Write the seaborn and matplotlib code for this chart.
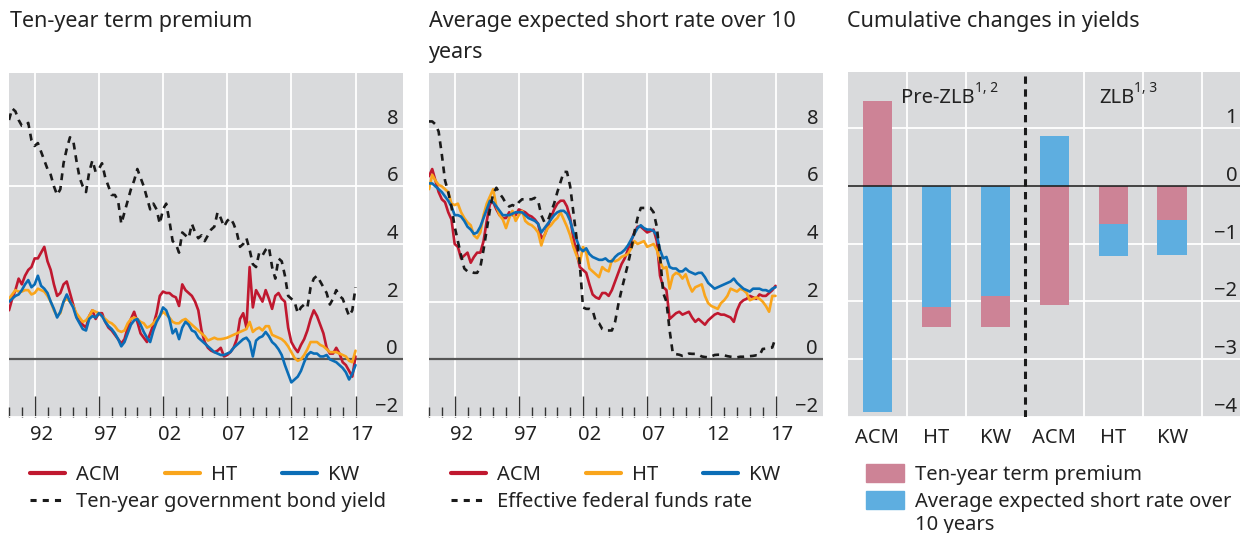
import numpy as np
import matplotlib
matplotlib.use("Agg")
import matplotlib.pyplot as plt
import matplotlib.transforms as mtransforms
from matplotlib.lines import Line2D
from matplotlib.patches import Patch
import seaborn as sns

# quarterly readings, 1990Q1 .. 2017Q1
dates = 1990 + np.arange(109) * 0.25

# left panel: ten-year term premium estimates and the 10y yield
acm_tp = [1.7, 2.1, 2.4, 2.8, 2.6, 2.9, 3.1, 3.2, 3.5, 3.5, 3.7, 3.9,
          3.4, 3.1, 2.6, 2.2, 2.3, 2.6, 2.7, 2.3, 1.9, 1.5, 1.3, 1.2,
          1.1, 1.5, 1.7, 1.4, 1.6, 1.6, 1.3, 1.1, 1.0, 0.85, 0.7, 0.55,
          0.7, 1.1, 1.4, 1.65, 1.3, 0.9, 0.75, 0.6, 0.9, 1.2, 1.6, 2.2,
          2.35, 2.3, 2.3, 2.2, 2.15, 1.85, 2.6, 2.4, 2.3, 2.2, 2.0, 1.7,
          1.0, 0.6, 0.4, 0.3, 0.25, 0.3, 0.4, 0.1, 0.15, 0.25, 0.4, 0.7,
          1.4, 1.6, 1.1, 3.2, 1.8, 2.4, 2.2, 2.0, 2.4, 2.1, 1.75, 2.2,
          2.3, 2.1, 2.0, 1.1, 0.6, 0.4, 0.25, 0.5, 0.7, 1.0, 1.4, 1.7,
          1.5, 1.2, 0.9, 0.4, 0.2, 0.2, 0.4, 0.2, -0.1, -0.2, -0.4, -0.6,
          0.1]
ht_tp = [2.1, 2.25, 2.4, 2.35, 2.35, 2.4, 2.4, 2.25, 2.3, 2.45, 2.4, 2.35,
         2.2, 2.0, 1.7, 1.5, 1.6, 2.0, 2.1, 2.0, 1.85, 1.6, 1.45, 1.3,
         1.35, 1.5, 1.7, 1.65, 1.6, 1.5, 1.4, 1.3, 1.25, 1.15, 1.0, 0.95,
         1.0, 1.25, 1.4, 1.45, 1.4, 1.3, 1.25, 1.1, 1.15, 1.25, 1.4, 1.5,
         1.65, 1.55, 1.45, 1.3, 1.25, 1.25, 1.35, 1.4, 1.3, 1.2, 1.1, 1.0,
         0.9, 0.8, 0.65, 0.7, 0.75, 0.7, 0.7, 0.72, 0.75, 0.8, 0.85, 0.9,
         0.95, 1.0, 1.05, 1.3, 0.95, 1.05, 1.1, 1.0, 1.15, 1.15, 0.85, 0.8,
         0.75, 0.7, 0.6, 0.45, 0.25, 0.05, -0.05, 0.0, 0.15, 0.35, 0.6, 0.6,
         0.6, 0.5, 0.45, 0.35, 0.25, 0.25, 0.25, 0.2, 0.15, 0.1, -0.05, -0.1,
         0.3]
kw_tp = [2.0, 2.1, 2.2, 2.25, 2.4, 2.6, 2.75, 2.5, 2.6, 2.9, 2.55, 2.45,
         2.3, 2.0, 1.75, 1.45, 1.65, 2.0, 2.25, 2.0, 1.8, 1.45, 1.25, 1.05,
         1.0, 1.4, 1.5, 1.45, 1.6, 1.5, 1.3, 1.15, 1.05, 0.9, 0.7, 0.45,
         0.6, 0.9, 1.2, 1.35, 1.4, 1.2, 0.95, 0.75, 0.6, 1.0, 1.3, 1.5,
         1.8, 1.7, 1.4, 0.9, 1.05, 0.7, 1.1, 1.3, 1.2, 1.0, 0.95, 0.75,
         0.65, 0.55, 0.45, 0.35, 0.25, 0.2, 0.15, 0.15, 0.2, 0.25, 0.4, 0.5,
         0.6, 0.7, 0.75, 0.6, 0.1, 0.65, 0.75, 0.8, 0.95, 0.8, 0.6, 0.5,
         0.35, 0.15, -0.2, -0.5, -0.8, -0.7, -0.6, -0.4, -0.1, 0.15, 0.25, 0.2,
         0.2, 0.1, 0.1, 0.15, 0.0, -0.05, -0.1, -0.2, -0.3, -0.45, -0.7, -0.5,
         -0.2]
bond_yield = [8.3, 8.7, 8.6, 8.3, 8.1, 8.1, 8.2, 7.6, 7.4, 7.5, 7.2, 6.9,
              6.6, 6.4, 6.0, 5.7, 5.9, 6.8, 7.3, 7.7, 7.6, 6.9, 6.3, 6.0,
              5.8, 6.5, 6.9, 6.5, 6.6, 6.8, 6.3, 6.0, 5.7, 5.7, 5.5, 4.7,
              5.1, 5.5, 5.9, 6.2, 6.6, 6.3, 6.0, 5.6, 5.2, 5.4, 5.2, 4.7,
              5.2, 5.4, 4.8, 4.1, 4.0, 3.7, 4.4, 4.3, 4.2, 4.7, 4.4, 4.2,
              4.3, 4.1, 4.3, 4.5, 4.6, 5.1, 4.9, 4.6, 4.8, 4.9, 4.7, 4.4,
              3.9, 4.0, 4.2, 3.8, 3.3, 3.2, 3.7, 3.6, 3.8, 3.9, 3.2, 2.8,
              3.5, 3.4, 2.9, 2.2, 2.1, 2.0, 1.6, 1.8, 1.9, 1.8, 2.5, 2.8,
              2.9, 2.7, 2.5, 2.3, 1.9, 2.1, 2.4, 2.2, 2.1, 1.8, 1.5, 1.7,
              2.5]

# middle panel: average expected short rate over 10 years and fed funds
acm_sr = [6.35, 6.6, 6.2, 5.8, 5.55, 5.45, 5.1, 4.85, 4.0, 3.9, 3.5, 3.6,
          3.7, 3.35, 3.55, 3.7, 3.7, 4.1, 4.8, 5.4, 5.45, 5.2, 5.0, 4.9,
          4.9, 5.1, 5.0, 5.0, 5.2, 5.15, 5.1, 5.0, 4.95, 4.85, 4.7, 4.2,
          4.3, 4.6, 4.9, 5.2, 5.4, 5.5, 5.5, 5.3, 4.9, 4.2, 3.7, 3.2,
          3.1, 3.0, 2.6, 2.25, 2.15, 2.1, 2.3, 2.3, 2.2, 2.4, 2.7, 3.0,
          3.3, 3.5, 3.8, 4.1, 4.4, 4.6, 4.6, 4.5, 4.4, 4.45, 4.5, 4.1,
          2.9, 2.5, 2.4, 1.4, 1.5, 1.6, 1.65, 1.55, 1.6, 1.65, 1.45, 1.3,
          1.4, 1.3, 1.2, 1.35, 1.45, 1.55, 1.6, 1.55, 1.55, 1.5, 1.45, 1.3,
          1.7, 1.95, 2.05, 2.1, 2.2, 2.15, 2.1, 2.25, 2.2, 2.2, 2.3, 2.4,
          2.55]
ht_sr = [5.9, 6.4, 6.2, 6.05, 6.0, 5.9, 5.8, 5.4, 5.35, 5.4, 5.1, 4.9,
         4.75, 4.65, 4.3, 4.2, 4.4, 5.0, 5.4, 5.65, 5.9, 5.3, 5.0, 4.85,
         4.55, 4.9, 5.15, 4.8, 5.0, 5.15, 4.8, 4.7, 4.65, 4.55, 4.4, 3.95,
         4.3, 4.55, 4.65, 4.8, 4.9, 5.1, 4.85, 4.6, 4.3, 3.9, 3.6, 3.35,
         3.9, 3.7, 3.15, 3.05, 2.95, 2.85, 3.2, 3.1, 3.05, 3.45, 3.4, 3.45,
         3.55, 3.6, 3.65, 3.85, 4.1, 4.0, 4.05, 4.1, 3.9, 3.95, 4.0, 3.8,
         3.4, 3.15, 3.2, 2.45, 2.9, 3.0, 2.95, 2.8, 2.95, 2.6, 2.35, 2.5,
         2.55, 2.6, 2.2, 1.95, 1.85, 1.8, 1.75, 1.95, 2.05, 2.2, 2.45, 2.4,
         2.35, 2.45, 2.4, 2.3, 2.05, 2.1, 2.15, 2.1, 2.0, 1.85, 1.65, 2.2,
         2.2]
kw_sr = [6.1, 6.1, 6.0, 5.9, 5.8, 5.65, 5.5, 5.3, 5.0, 5.0, 4.95, 4.8,
         4.6, 4.5, 4.35, 4.4, 4.6, 4.9, 5.2, 5.5, 5.45, 5.3, 5.15, 5.0,
         5.0, 5.0, 5.05, 5.1, 5.1, 5.1, 5.0, 4.9, 4.85, 4.8, 4.7, 4.4,
         4.55, 4.7, 4.85, 5.0, 5.1, 5.15, 5.15, 5.05, 4.8, 4.4, 4.15, 3.85,
         3.75, 3.85, 3.65, 3.55, 3.5, 3.45, 3.45, 3.5, 3.4, 3.4, 3.55, 3.65,
         3.7, 3.8, 3.95, 4.15, 4.35, 4.55, 4.65, 4.55, 4.5, 4.5, 4.45, 4.3,
         3.8, 3.5, 3.55, 3.2, 3.15, 3.15, 3.05, 3.05, 3.15, 3.05, 3.0, 2.95,
         3.0, 3.0, 2.85, 2.65, 2.55, 2.45, 2.5, 2.55, 2.6, 2.65, 2.7, 2.8,
         2.65, 2.55, 2.45, 2.4, 2.35, 2.45, 2.45, 2.45, 2.4, 2.4, 2.35, 2.45,
         2.5]
fed_funds = [8.25, 8.25, 8.15, 7.9, 7.1, 6.2, 5.8, 5.3, 4.6, 4.1, 3.6, 3.15,
             3.05, 3.05, 3.0, 3.0, 3.2, 3.8, 4.5, 5.2, 5.75, 5.95, 5.75, 5.6,
             5.4, 5.3, 5.35, 5.3, 5.45, 5.55, 5.55, 5.55, 5.55, 5.6, 5.5, 5.0,
             4.75, 4.8, 5.1, 5.4, 5.8, 6.15, 6.5, 6.5, 6.0, 5.1, 4.2, 3.3,
             1.8, 1.75, 1.75, 1.7, 1.3, 1.25, 1.05, 1.0, 1.0, 1.0, 1.3, 1.9,
             2.4, 2.85, 3.3, 3.8, 4.4, 4.9, 5.25, 5.25, 5.25, 5.25, 5.1, 4.6,
             3.6, 2.3, 2.0, 1.0, 0.2, 0.18, 0.16, 0.12, 0.13, 0.2, 0.19, 0.19,
             0.16, 0.1, 0.08, 0.07, 0.1, 0.15, 0.16, 0.16, 0.14, 0.11, 0.09, 0.08,
             0.07, 0.09, 0.09, 0.1, 0.11, 0.12, 0.14, 0.13, 0.36, 0.37, 0.39, 0.41,
             0.75]

# right panel: cumulative changes in yields
bar_labels = ["ACM", "HT", "KW", "ACM", "HT", "KW"]
bar_period = ["Pre-ZLB", "Pre-ZLB", "Pre-ZLB", "ZLB", "ZLB", "ZLB"]
term_premium_chg = [1.47, -0.36, -0.54, -2.07, -0.66, -0.59]
short_rate_chg = [-3.91, -2.09, -1.91, 0.86, -0.55, -0.61]

RED = "#c0182f"
ORANGE = "#f9a51c"
BLUE = "#0b6db6"
DARK = "#1a1a1a"
PINK = "#cd8396"
LBLUE = "#5eaee0"
BG = "#d9dadc"
TXT = "#222222"
FS = 14.5
TFS = 15.5

sns.set_theme(style="darkgrid", rc={"axes.facecolor": BG, "grid.color": "white",
                                    "grid.linewidth": 1.3})
plt.rcParams["font.family"] = ["Noto Sans", "DejaVu Sans"]
plt.rcParams["text.color"] = TXT

W, H = 1240, 533
fig = plt.figure(figsize=(W / 100, H / 100), dpi=100)
fig.patch.set_facecolor("white")


def box(x0, y0, x1, y1):
    return [x0 / W, 1 - y1 / H, (x1 - x0) / W, (y1 - y0) / H]


ax1 = fig.add_axes(box(9, 73, 403, 417))
ax2 = fig.add_axes(box(429, 73, 823, 417))
ax3 = fig.add_axes(box(848, 72, 1240, 417))

dash = (0, (2.6, 2.2))


def time_panel(ax, series, dashed):
    for vals, col in zip(series, (RED, ORANGE, BLUE)):
        sns.lineplot(x=dates, y=vals, ax=ax, color=col, lw=1.9)
    sns.lineplot(x=dates, y=dashed, ax=ax, color=DARK, lw=1.9, linestyle=dash)
    ax.axhline(0, color="#555555", lw=1.6, zorder=1.5)
    ax.set_xlim(1990, 2020.7)
    ax.set_ylim(-2, 9.93)
    ax.set_yticks(range(-2, 9, 2))
    ax.set_xticks(np.arange(1992, 2018, 5))
    ax.set_xticklabels(["92", "97", "02", "07", "12", "17"])
    ax.set_xticks(np.arange(1990, 2017), minor=True)
    ax.yaxis.tick_right()
    ax.tick_params(axis="y", length=0, pad=-3.6, labelsize=FS, labelcolor=TXT)
    ax.tick_params(axis="x", which="major", direction="in", length=15, width=1,
                   color="#333333", pad=6, labelsize=FS, labelcolor=TXT, bottom=True)
    ax.tick_params(axis="x", which="minor", direction="in", length=7, width=1,
                   color="#333333", bottom=True)
    ax.grid(True, which="major", color="white", lw=1.3)
    ax.set_xlabel("")
    ax.set_ylabel("")
    for s in ax.spines.values():
        s.set_visible(False)
    shift = mtransforms.ScaledTranslation(0.064, 0, fig.dpi_scale_trans)
    for lab in ax.get_xticklabels():
        lab.set_transform(lab.get_transform() + shift)
    plt.setp(ax.get_yticklabels(), ha="right", va="bottom")


time_panel(ax1, (acm_tp, ht_tp, kw_tp), bond_yield)
time_panel(ax2, (acm_sr, ht_sr, kw_sr), fed_funds)

# stacked bars: the component nearer zero is drawn from the axis
xpos = np.arange(len(bar_labels))
tp_bottom, sr_bottom = [], []
for tp, sr, per in zip(term_premium_chg, short_rate_chg, bar_period):
    if per == "Pre-ZLB":
        sr_bottom.append(0)
        tp_bottom.append(sr if np.sign(sr) == np.sign(tp) else 0)
    else:
        tp_bottom.append(0)
        sr_bottom.append(tp if np.sign(sr) == np.sign(tp) else 0)
ax3.bar(xpos, short_rate_chg, 0.5, bottom=sr_bottom, color=LBLUE, linewidth=0, zorder=2)
ax3.bar(xpos, term_premium_chg, 0.5, bottom=tp_bottom, color=PINK, linewidth=0, zorder=2)
ax3.axhline(0, color=TXT, lw=1.2, zorder=3)
ax3.axvline(2.5, color=DARK, lw=2.2, linestyle=(0, (2.4, 1.8)), zorder=3)
ax3.set_xlim(-0.5, 6.15)
ax3.set_ylim(-4, 1.97)
ax3.set_yticks(range(-4, 2))
ax3.set_xticks(xpos)
ax3.set_xticklabels(bar_labels)
ax3.set_xticks([0.5, 1.5, 3.5, 4.5, 5.5], minor=True)
ax3.grid(False, axis="x", which="major")
ax3.grid(True, axis="x", which="minor", color="white", lw=1.3)
ax3.grid(True, axis="y", which="major", color="white", lw=1.3)
ax3.yaxis.tick_right()
ax3.tick_params(axis="y", length=0, pad=-2, labelsize=FS, labelcolor=TXT)
ax3.tick_params(axis="x", which="both", length=0, pad=8, labelsize=FS, labelcolor=TXT)
for s in ax3.spines.values():
    s.set_visible(False)
plt.setp(ax3.get_yticklabels(), ha="right", va="bottom")

t1 = ax3.text(0.4, 1.52, "Pre-ZLB", fontsize=FS, va="center", ha="left")
ax3.annotate("1, 2", xy=(1, 0.62), xycoords=t1, fontsize=10, va="bottom", ha="left")
t2 = ax3.text(3.76, 1.52, "ZLB", fontsize=FS, va="center", ha="left")
ax3.annotate("1, 3", xy=(1, 0.62), xycoords=t2, fontsize=10, va="bottom", ha="left")

# titles
fig.text(10 / W, 1 - 11 / H, "Ten-year term premium", fontsize=TFS, va="top")
fig.text(429 / W, 1 - 11 / H, "Average expected short rate over 10\nyears", fontsize=TFS,
         va="top", linespacing=1.65)
fig.text(847 / W, 1 - 11 / H, "Cumulative changes in yields", fontsize=TFS, va="top")

# legends
leg_kw = dict(frameon=False, fontsize=FS, borderpad=0, borderaxespad=0,
              handletextpad=0.55, loc="upper left")
model_h = [Line2D([], [], color=c, lw=3) for c in (RED, ORANGE, BLUE)]
for x0, dlabel in ((30, "Ten-year government bond yield"), (451, "Effective federal funds rate")):
    fig.legend(model_h, ["ACM", "HT", "KW"], ncol=3, handlelength=1.75, columnspacing=2.2,
               bbox_to_anchor=(x0 / W, 1 - 465 / H), **leg_kw)
    fig.legend([Line2D([], [], color=DARK, lw=2.2, linestyle=(0, (2, 2)))], [dlabel],
               handlelength=1.75, bbox_to_anchor=(x0 / W, 1 - 492 / H), **leg_kw)

bar_leg = fig.legend([Patch(color=PINK), Patch(color=LBLUE)],
                     ["Ten-year term premium", "Average expected short rate over"],
                     handlelength=1.9, handleheight=1.0, labelspacing=0.3,
                     bbox_to_anchor=(866 / W, 1 - 464 / H), **leg_kw)
fig.canvas.draw()
ext = bar_leg.get_texts()[1].get_window_extent()
fig.text(ext.x0 / fig.bbox.width, (ext.y0 - 3) / fig.bbox.height, "10 years",
         fontsize=FS, va="top", ha="left")

fig.savefig("out.png", dpi=100, facecolor="white")
